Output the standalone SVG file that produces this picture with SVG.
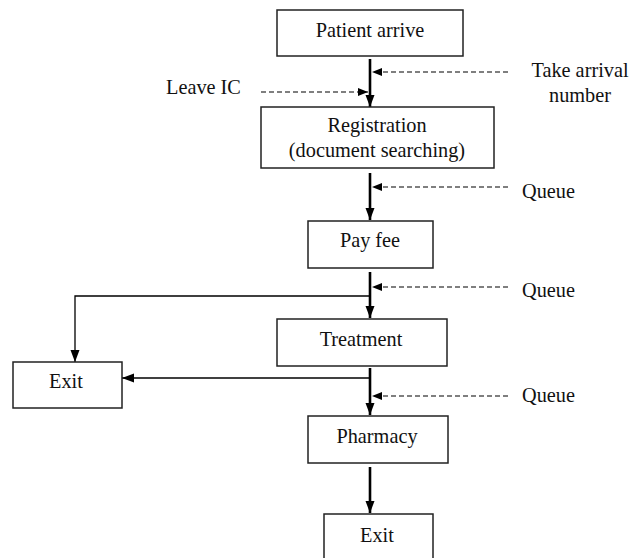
<svg xmlns="http://www.w3.org/2000/svg" width="630" height="558" viewBox="0 0 630 558">
<defs>
<style>
.box{fill:#fff;stroke:#222;stroke-width:1.5}
.t{font-family:'Liberation Serif','Times New Roman',serif;font-size:20.3px;fill:#111}
.m{text-anchor:middle}
.main{stroke:#000;stroke-width:2.6;fill:none}
.thin{stroke:#000;stroke-width:1.3;fill:none}
.dash{stroke:#000;stroke-width:1.2;fill:none;stroke-dasharray:5,3}
</style>
<marker id="big" markerUnits="userSpaceOnUse" markerWidth="12" markerHeight="12" viewBox="0 0 12 12" refX="12" refY="6" orient="auto">
<path d="M0,1.5 L12,6 L0,10.5 Z" fill="#000"/>
</marker>
<marker id="sm" markerUnits="userSpaceOnUse" markerWidth="10" markerHeight="10" viewBox="0 0 10 10" refX="10" refY="5" orient="auto">
<path d="M0,1 L10,5 L0,9 Z" fill="#000"/>
</marker>
</defs>
<rect width="630" height="558" fill="#fff"/>
<g id="connectors">
<line class="main" x1="370" y1="59" x2="370" y2="107" marker-end="url(#big)"/>
<line class="dash" x1="508" y1="72" x2="372" y2="72" marker-end="url(#sm)"/>
<line class="dash" x1="261" y1="92" x2="368" y2="92" marker-end="url(#sm)"/>
<line class="main" x1="370" y1="173" x2="370" y2="220" marker-end="url(#big)"/>
<line class="dash" x1="508" y1="187" x2="372" y2="187" marker-end="url(#sm)"/>
<line class="main" x1="370" y1="272" x2="370" y2="318" marker-end="url(#big)"/>
<line class="dash" x1="508" y1="287" x2="372" y2="287" marker-end="url(#sm)"/>
<polyline class="thin" points="370,296 75,296 75,362" marker-end="url(#big)"/>
<line class="main" x1="370" y1="368" x2="370" y2="415" marker-end="url(#big)"/>
<line class="thin" x1="370" y1="378" x2="122" y2="378" marker-end="url(#big)"/>
<line class="dash" x1="508" y1="396" x2="372" y2="396" marker-end="url(#sm)"/>
<line class="main" x1="370" y1="467" x2="370" y2="513" marker-end="url(#big)"/>
</g>
<g id="patient-arrive"><rect class="box" x="277" y="10" width="186" height="46"/><text class="t m" x="370" y="37">Patient arrive</text></g>
<g id="registration"><rect class="box" x="261" y="107" width="233" height="61"/><text class="t m" x="377" y="132">Registration</text><text class="t m" x="377" y="157">(document searching)</text></g>
<g id="pay-fee"><rect class="box" x="308" y="221" width="125" height="47"/><text class="t m" x="370" y="247">Pay fee</text></g>
<g id="treatment"><rect class="box" x="277" y="319" width="170" height="47"/><text class="t m" x="361" y="346">Treatment</text></g>
<g id="exit-left"><rect class="box" x="13" y="362" width="109" height="46"/><text class="t m" x="66" y="388">Exit</text></g>
<g id="pharmacy"><rect class="box" x="308" y="416" width="140" height="47"/><text class="t m" x="377" y="443">Pharmacy</text></g>
<g id="exit-bottom"><rect class="box" x="324" y="514" width="109" height="50"/><text class="t m" x="377" y="542">Exit</text></g>
<g id="label-leave-ic"><text class="t" x="166" y="94">Leave IC</text></g>
<g id="label-take-arrival"><text class="t m" x="580" y="77">Take arrival</text><text class="t m" x="580" y="102">number</text></g>
<g id="label-queue-1"><text class="t" x="522" y="198">Queue</text></g>
<g id="label-queue-2"><text class="t" x="522" y="297">Queue</text></g>
<g id="label-queue-3"><text class="t" x="522" y="402">Queue</text></g>
</svg>
